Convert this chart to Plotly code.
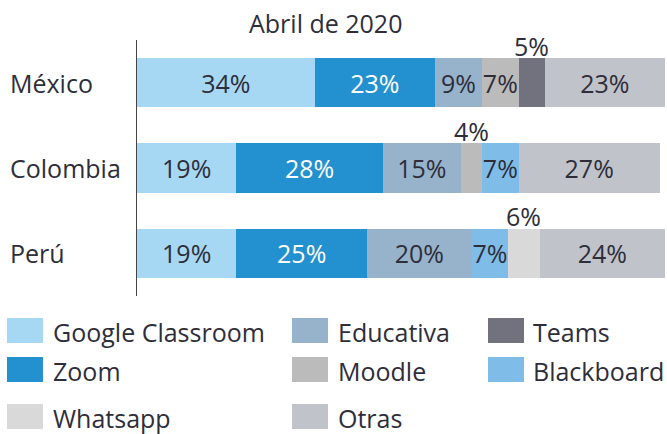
import plotly.graph_objects as go

# ---------------- data ----------------
categories = ["México", "Colombia", "Perú"]
chart_title = "Abril de 2020"

google_classroom = [34, 19, 19]
zoom = [23, 28, 25]
educativa = [9, 15, 20]
moodle = [7, 4, 0]
teams = [5, 0, 0]
blackboard = [0, 7, 7]
whatsapp = [0, 0, 6]
otras = [23, 27, 24]

series_names = ["Google Classroom", "Zoom", "Educativa", "Moodle",
                "Teams", "Blackboard", "Whatsapp", "Otras"]
series_values = [google_classroom, zoom, educativa, moodle,
                 teams, blackboard, whatsapp, otras]
series_colors = ["#A6D8F4", "#2391D0", "#97B2CB", "#BBBBBB",
                 "#72727F", "#7FBDE8", "#D9D9D9", "#C0C3CA"]
label_colors = ["#2E2E3A", "#FFFFFF", "#2E2E3A", "#2E2E3A",
                "#2E2E3A", "#2E2E3A", "#2E2E3A", "#2E2E3A"]

legend_order = ["Google Classroom", "Educativa", "Teams",
                "Zoom", "Moodle", "Blackboard",
                "Whatsapp", "Otras"]

# ---------------- layout constants ----------------
W, H = 667, 434
L, R, T, B = 137, 2, 40, 138
PW, PH = W - L - R, H - T - B
FONT = "Open Sans"
TXT = "#2E2E3A"
FS = 25
INSIDE_MIN = 7


def px2x(px):
    return (px - L) / PW


def py2y(py):
    return (H - B - py) / PH


fig = go.Figure()

for name, vals, col, lc in zip(series_names, series_values, series_colors, label_colors):
    fig.add_trace(go.Bar(
        name=name, y=categories, x=vals, orientation="h",
        marker=dict(color=col, line=dict(width=0)),
        text=[f"{v}%" if v >= INSIDE_MIN else "" for v in vals],
        textposition="inside", insidetextanchor="middle", textangle=0,
        constraintext="none",
        textfont=dict(family=FONT, size=FS, color=lc),
        hoverinfo="skip", showlegend=False, cliponaxis=False,
    ))

annotations = []
shapes = []

# small values labelled above the bar
for ci, cat in enumerate(categories):
    cum = 0
    for vals in series_values:
        v = vals[ci]
        if 0 < v < INSIDE_MIN:
            annotations.append(dict(
                x=cum + v / 2, y=cat, xref="x", yref="y",
                text=f"{v}%", showarrow=False, yshift=37,
                font=dict(family=FONT, size=FS, color=TXT),
                xanchor="center", yanchor="middle"))
        cum += v

# category labels (left aligned)
for cat in categories:
    annotations.append(dict(
        x=px2x(8), y=cat, xref="paper", yref="y", text=cat,
        showarrow=False, xanchor="left", yanchor="middle",
        font=dict(family=FONT, size=FS, color=TXT)))

# title
annotations.append(dict(
    x=px2x(325), y=py2y(23), xref="paper", yref="paper", text=chart_title,
    showarrow=False, xanchor="center", yanchor="middle",
    font=dict(family=FONT, size=FS, color=TXT)))

# legend
col_sw = [7, 292, 488]
col_tx = [51, 336, 531]
row_top = [318, 357, 404]
SW_W, SW_H = 36, 25
for i, name in enumerate(legend_order):
    c, r = i % 3, i // 3
    color = series_colors[series_names.index(name)]
    shapes.append(dict(
        type="rect", xref="paper", yref="paper",
        x0=px2x(col_sw[c]), x1=px2x(col_sw[c] + SW_W),
        y0=py2y(row_top[r] + SW_H), y1=py2y(row_top[r]),
        fillcolor=color, line=dict(width=0)))
    annotations.append(dict(
        x=px2x(col_tx[c]), y=py2y(row_top[r] + SW_H / 2 + 1),
        xref="paper", yref="paper", text=name, showarrow=False,
        xanchor="left", yanchor="middle",
        font=dict(family=FONT, size=FS, color=TXT)))

fig.update_layout(
    width=W, height=H,
    margin=dict(l=L, r=R, t=T, b=B, pad=0),
    barmode="stack", bargap=0.425,
    paper_bgcolor="white", plot_bgcolor="white",
    showlegend=False,
    uniformtext=dict(minsize=FS, mode="show"),
    xaxis=dict(range=[0, 101], visible=False, fixedrange=True),
    yaxis=dict(categoryorder="array", categoryarray=categories,
               range=[2.5, -0.5], autorange=False,
               showline=True, linecolor="#444444",
               linewidth=1, showticklabels=False, ticks="",
               showgrid=False, zeroline=False, fixedrange=True),
    annotations=annotations, shapes=shapes,
    font=dict(family=FONT, size=FS, color=TXT),
)

fig.write_html(
    "out.html",
    config={"displayModeBar": False},
    post_script="document.body.style.margin='0';document.body.style.overflow='hidden';",
)
